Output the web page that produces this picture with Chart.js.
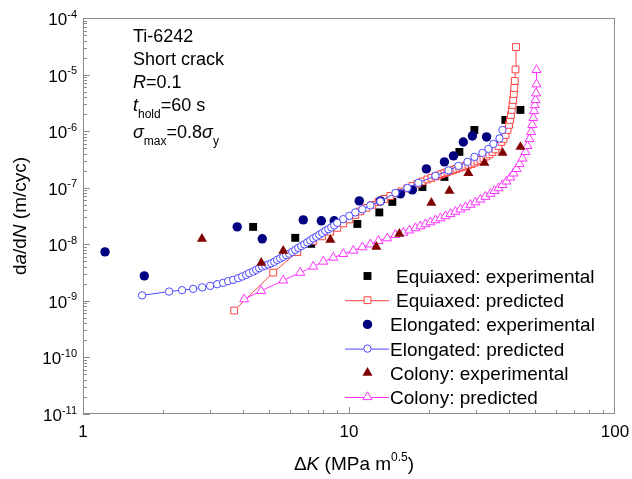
<!DOCTYPE html>
<html><head><meta charset="utf-8">
<script src="https://cdn.jsdelivr.net/npm/chart.js@4.4.1/dist/chart.umd.min.js"></script>
<style>html,body{margin:0;padding:0;background:#fff}#wrap{width:632px;height:479px;position:relative}</style>
</head><body><div id="wrap"><canvas id="c"></canvas></div>
<script>
// ---------- data (ΔK in MPa m^0.5, da/dN in m/cycle) ----------
const equiaxedExpK    = [4.36, 6.28, 7.21, 10.75, 13.0, 14.55, 18.88, 22.84, 26.0, 29.6, 38.7, 44.1];
const equiaxedExpRate = [2.03e-8, 1.30e-8, 1.02e-8, 2.29e-8, 3.66e-8, 5.61e-8, 1.03e-7, 1.55e-7, 4.29e-7, 1.05e-6, 1.58e-6, 2.37e-6];

const equiaxedPredK = [3.70, 5.19, 6.39, 7.34, 7.93, 8.50, 9.04, 9.52, 10.03, 10.56, 11.03, 11.62, 12.24, 12.90, 13.58, 14.30, 15.07, 15.73, 16.58, 17.31, 18.08, 18.88, 19.71, 20.40,
  21.13, 21.69, 22.26, 22.84, 23.44, 24.06, 24.69, 25.33, 26.00, 26.68, 27.40, 28.12, 28.86, 29.62, 30.40, 31.20, 32.03, 32.87, 33.73, 34.62, 35.53, 36.47, 37.43, 38.08, 38.76, 39.43,
  39.95, 40.30, 40.65, 40.89, 41.18, 41.43, 41.64, 41.82, 42.00, 42.26, 42.44];
const equiaxedPredRate = [6.74e-10, 3.16e-9, 7.25e-9, 1.15e-8, 1.38e-8, 1.66e-8, 1.95e-8, 2.34e-8, 2.75e-8, 3.31e-8, 3.81e-8, 4.40e-8, 4.97e-8, 5.61e-8, 6.34e-8, 7.16e-8, 7.93e-8, 8.60e-8, 9.72e-8, 1.08e-7, 1.17e-7, 1.29e-7, 1.40e-7, 1.49e-7,
  1.58e-7, 1.65e-7, 1.74e-7, 1.81e-7, 1.90e-7, 1.98e-7, 2.06e-7, 2.15e-7, 2.24e-7, 2.33e-7, 2.43e-7, 2.53e-7, 2.63e-7, 2.77e-7, 2.92e-7, 3.10e-7, 3.29e-7, 3.57e-7, 3.88e-7, 4.29e-7, 4.75e-7, 5.48e-7, 6.45e-7, 7.28e-7, 8.57e-7, 1.05e-6,
  1.29e-6, 1.58e-6, 1.93e-6, 2.37e-6, 2.90e-6, 3.56e-6, 4.54e-6, 5.80e-6, 7.71e-6, 1.23e-5, 3.07e-5];

const elongatedExpK    = [1.21, 1.70, 3.80, 4.72, 6.73, 7.87, 8.80, 10.93, 13.12, 15.6, 17.3, 19.54, 22.84, 24.7, 26.9, 29.1, 32.9];
const elongatedExpRate = [7.34e-9, 2.77e-9, 2.03e-8, 1.25e-8, 2.70e-8, 2.60e-8, 2.60e-8, 5.85e-8, 5.85e-8, 7.77e-8, 9.14e-8, 2.15e-7, 2.86e-7, 3.65e-7, 6.44e-7, 8.23e-7, 7.90e-7];

const elongatedPredK = [1.668, 2.107, 2.358, 2.594, 2.805, 3.006, 3.194, 3.364, 3.513, 3.669, 3.832, 3.966, 4.107, 4.215, 4.363, 4.478, 4.596,
  4.718, 4.842, 4.970, 5.101, 5.235, 5.371, 5.513, 5.658, 5.808, 5.961, 6.118, 6.279, 6.445, 6.615, 6.789, 6.968, 7.151, 7.339, 7.533, 7.731, 7.934, 8.143, 8.358, 8.578, 8.804, 9.036,
  9.517, 10.03, 10.56, 11.22, 12.03, 13.12, 14.94, 16.58, 18.23, 21.13, 23.65, 25.78, 27.88, 29.62, 31.75, 33.44, 34.92, 36.79, 37.76];
const elongatedPredRate = [1.25e-9, 1.46e-9, 1.545e-9, 1.63e-9, 1.73e-9, 1.84e-9, 1.97e-9, 2.08e-9, 2.23e-9, 2.35e-9, 2.52e-9, 2.69e-9, 2.88e-9, 3.09e-9, 3.29e-9, 3.53e-9, 3.78e-9,
  4.02e-9, 4.19e-9, 4.38e-9, 4.62e-9, 4.89e-9, 5.30e-9, 5.63e-9, 5.99e-9, 6.42e-9, 6.82e-9, 7.34e-9, 7.96e-9, 8.64e-9, 9.29e-9, 9.96e-9, 1.08e-8, 1.17e-8, 1.27e-8, 1.36e-8, 1.47e-8, 1.59e-8, 1.73e-8, 1.85e-8, 1.99e-8, 2.16e-8, 2.39e-8,
  2.78e-8, 3.18e-8, 3.66e-8, 4.14e-8, 4.87e-8, 5.73e-8, 8.09e-8, 9.92e-8, 1.22e-7, 1.62e-7, 2.02e-7, 2.43e-7, 2.86e-7, 3.50e-7, 4.12e-7, 4.85e-7, 5.94e-7, 7.43e-7, 1.05e-6];

const colonyExpK    = [2.80, 4.68, 5.66, 8.51, 12.67, 15.46, 20.4, 23.85, 28.1, 32.3, 37.8, 44.1];
const colonyExpRate = [1.25e-8, 4.69e-9, 7.64e-9, 1.20e-8, 9.0e-9, 1.53e-8, 5.39e-8, 8.78e-8, 1.82e-7, 2.74e-7, 4.12e-7, 5.26e-7];

const colonyPredK = [4.036, 4.676, 5.658, 6.557, 7.339, 8.004, 8.727, 9.517, 10.38, 11.22, 12.03, 12.90, 13.93, 14.94, 16.01, 16.87, 17.77, 18.55, 19.37, 20.23, 21.13, 22.06,
  23.04, 24.06, 25.12, 26.23, 27.40, 28.61, 29.88, 31.20, 32.58, 34.02, 35.23, 36.47, 37.76, 39.08, 40.47, 41.53, 42.63, 43.75, 44.90, 46.08, 46.89, 47.71, 48.33, 48.88, 49.31,
  49.65, 49.95, 50.26, 50.51, 50.69, 50.69];
const colonyPredRate = [1.07e-9, 1.50e-9, 2.30e-9, 3.15e-9, 4.04e-9, 4.95e-9, 5.82e-9, 6.77e-9, 7.74e-9, 8.89e-9, 1.00e-8, 1.15e-8, 1.28e-8, 1.47e-8, 1.61e-8, 1.76e-8, 1.93e-8, 2.09e-8, 2.27e-8, 2.46e-8, 2.67e-8, 2.89e-8,
  3.15e-8, 3.44e-8, 3.77e-8, 4.14e-8, 4.54e-8, 5.01e-8, 5.54e-8, 6.19e-8, 6.93e-8, 7.83e-8, 8.78e-8, 9.84e-8, 1.12e-7, 1.29e-7, 1.52e-7, 1.79e-7, 2.15e-7, 2.63e-7, 3.29e-7, 4.29e-7, 5.48e-7, 7.28e-7, 9.68e-7, 1.29e-6, 1.71e-6,
  2.27e-6, 2.90e-6, 3.56e-6, 4.67e-6, 6.74e-6, 1.21e-5];

const seriesNames = ['Equiaxed: experimental', 'Equiaxed: predicted', 'Elongated: experimental', 'Elongated: predicted', 'Colony: experimental', 'Colony: predicted'];
const xTickValues = [1, 10, 100];
const xTickLabels = ['1', '10', '100'];
const yTickExponents = [-11, -10, -9, -8, -7, -6, -5, -4];

// ---------- build ----------
const pts = (xs, ys) => xs.map((v, i) => ({x: v, y: ys[i]}));
const FONT = '"Liberation Sans", Arial, Helvetica, sans-serif';

const datasets = [
  {label: seriesNames[0], data: pts(equiaxedExpK, equiaxedExpRate), pointStyle: 'rect', pointRadius: 5.6,
   backgroundColor: '#000000', borderColor: '#000000', borderWidth: 0, showLine: false, order: 6},
  {label: seriesNames[1], data: pts(equiaxedPredK, equiaxedPredRate), pointStyle: 'rect', pointRadius: 4.8,
   backgroundColor: '#ffffff', borderColor: '#ff4040', pointBorderWidth: 1, borderWidth: 1, showLine: true, order: 5, line: true},
  {label: seriesNames[2], data: pts(elongatedExpK, elongatedExpRate), pointStyle: 'circle', pointRadius: 4.7,
   backgroundColor: '#000080', borderColor: '#000080', borderWidth: 0, showLine: false, order: 4},
  {label: seriesNames[3], data: pts(elongatedPredK, elongatedPredRate), pointStyle: 'circle', pointRadius: 3.7,
   backgroundColor: '#ffffff', borderColor: '#4a4aff', pointBorderWidth: 1, borderWidth: 1, showLine: true, order: 2, line: true},
  {label: seriesNames[4], data: pts(colonyExpK, colonyExpRate), pointStyle: 'triangle', pointRadius: 5.8,
   backgroundColor: '#800000', borderColor: '#800000', borderWidth: 0, showLine: false, order: 1},
  {label: seriesNames[5], data: pts(colonyPredK, colonyPredRate), pointStyle: 'triangle', pointRadius: 5.2,
   backgroundColor: '#ffffff', borderColor: '#ff33ff', pointBorderWidth: 1, borderWidth: 1, showLine: true, order: 3, line: true}
];

function runs(ctx, x, y, list) {
  for (const r of list) {
    ctx.font = (r.i ? 'italic ' : '') + (r.sz || 18) + 'px ' + FONT;
    ctx.fillText(r.t, x, y + (r.dy || 0));
    x += ctx.measureText(r.t).width;
  }
  return x;
}
function runsWidth(ctx, list) {
  let w = 0;
  for (const r of list) { ctx.font = (r.i ? 'italic ' : '') + (r.sz || 18) + 'px ' + FONT; w += ctx.measureText(r.t).width; }
  return w;
}

const framePlugin = {
  id: 'frame',
  beforeDatasetsDraw(chart) {
    const {ctx, chartArea: a, scales: {x, y}} = chart;
    ctx.save();
    ctx.strokeStyle = '#8c8c8c';
    ctx.lineWidth = 1;
    ctx.strokeRect(a.left + 0.5, a.top + 0.5, a.right - a.left - 1, a.bottom - a.top - 1);
    ctx.beginPath();
    // x ticks (inward)
    for (let d = 1; d < 100; d *= 10) {
      for (let m = 1; m <= 9; m++) {
        const px = Math.round(x.getPixelForValue(d * m)) + 0.5;
        const len = m === 1 ? 7 : 4;
        ctx.moveTo(px, a.bottom); ctx.lineTo(px, a.bottom - len);
      }
    }
    // y ticks (inward)
    for (let e = -11; e < -4; e++) {
      for (let m = 1; m <= 9; m++) {
        const py = Math.round(y.getPixelForValue(m * Math.pow(10, e))) + 0.5;
        const len = m === 1 ? 7 : 4;
        ctx.moveTo(a.left, py); ctx.lineTo(a.left + len, py);
      }
    }
    ctx.stroke();
    ctx.restore();
  },
  afterDraw(chart) {
    const {ctx, chartArea: a, scales: {x, y}} = chart;
    ctx.save();
    ctx.fillStyle = '#000';
    ctx.textBaseline = 'alphabetic';
    // x tick labels
    ctx.font = '17px ' + FONT;
    ctx.textAlign = 'center';
    xTickValues.forEach((v, i) => ctx.fillText(xTickLabels[i], x.getPixelForValue(v), a.bottom + 23));
    // y tick labels 10^e
    ctx.textAlign = 'left';
    yTickExponents.forEach(e => {
      const py = y.getPixelForValue(Math.pow(10, e));
      const list = [{t: '10', sz: 17}, {t: String(e), sz: 11, dy: -7.5}];
      const w = runsWidth(ctx, list);
      runs(ctx, 77 - w, py + 7, list);
    });
    // axis titles
    const xt = [{t: '\u0394', sz: 19}, {t: 'K', i: true, sz: 19}, {t: ' (MPa m', sz: 19}, {t: '0.5', sz: 12, dy: -9}, {t: ')', sz: 19}];
    const xw = runsWidth(ctx, xt);
    runs(ctx, (a.left + a.right) / 2 - xw / 2 + 5, 470, xt);
    ctx.save();
    ctx.translate(26, (a.top + a.bottom) / 2);
    ctx.rotate(-Math.PI / 2);
    const yt = [{t: 'd', sz: 19}, {t: 'a', i: true, sz: 19}, {t: '/d', sz: 19}, {t: 'N', i: true, sz: 19}, {t: ' (m/cyc)', sz: 19}];
    const yw = runsWidth(ctx, yt);
    runs(ctx, -yw / 2, 0, yt);
    ctx.restore();
    // annotation block
    const ax = 133;
    runs(ctx, ax, 42, [{t: 'Ti-6242'}]);
    runs(ctx, ax, 65, [{t: 'Short crack'}]);
    runs(ctx, ax, 88, [{t: 'R', i: true}, {t: '=0.1'}]);
    runs(ctx, ax, 110.5, [{t: 't', i: true}, {t: 'hold', sz: 12, dy: 7}, {t: '=60 s'}]);
    runs(ctx, ax, 138, [{t: '\u03c3', i: true}, {t: 'max', sz: 12, dy: 7}, {t: '=0.8'}, {t: '\u03c3', i: true}, {t: 'y', sz: 12, dy: 7}]);
    // legend
    const rowY = [276, 300.2, 324.4, 348.6, 372.8, 397];
    const textX = [396, 396, 390, 390, 390, 390];
    const mx = 367.5;
    chart.data.datasets.forEach((ds, i) => {
      const cy = rowY[i];
      if (ds.line) {
        ctx.strokeStyle = ds.borderColor; ctx.lineWidth = 1;
        ctx.beginPath(); ctx.moveTo(345, cy + 0.5); ctx.lineTo(389, cy + 0.5); ctx.stroke();
      }
      ctx.fillStyle = ds.backgroundColor; ctx.strokeStyle = ds.borderColor;
      ctx.lineWidth = ds.pointBorderWidth || 0;
      Chart.helpers.drawPoint(ctx, {pointStyle: ds.pointStyle, radius: ds.pointRadius, rotation: 0, borderWidth: ds.pointBorderWidth || 0}, mx, cy);
      ctx.fillStyle = '#000';
      runs(ctx, textX[i], cy + 7, [{t: ds.label, sz: 19}]);
    });
    ctx.restore();
  }
};

new Chart(document.getElementById('c'), {
  type: 'scatter',
  data: {datasets},
  options: {
    responsive: true, maintainAspectRatio: false, animation: false,
    layout: {padding: {left: 83, right: 17, top: 18, bottom: 65}},
    elements: {line: {tension: 0}},
    scales: {
      x: {type: 'logarithmic', min: 1, max: 100, display: false},
      y: {type: 'logarithmic', min: 1e-11, max: 1e-4, display: false}
    },
    plugins: {legend: {display: false}, tooltip: {enabled: false}}
  },
  plugins: [framePlugin]
});
</script></body></html>
